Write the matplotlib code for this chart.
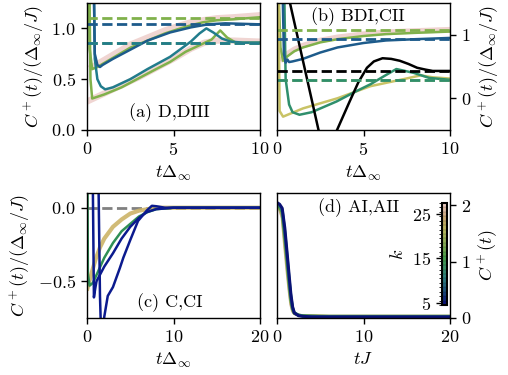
import numpy as np
import matplotlib
matplotlib.use('Agg')
import matplotlib.pyplot as plt
from matplotlib.colors import ListedColormap, BoundaryNorm

plt.rcParams.update({
    'font.family': 'serif', 'font.serif': ['cmr10', 'DejaVu Serif'],
    'mathtext.fontset': 'cm', 'axes.formatter.use_mathtext': True,
    'font.size': 13, 'axes.linewidth': 1.0,
    'xtick.major.width': 1.0, 'ytick.major.width': 1.0,
    'xtick.major.size': 4.5, 'ytick.major.size': 4.5,
    'axes.unicode_minus': True,
})

# ---------------- data: panel (a) D,DIII ----------------
a_pink_lo_t = [0.0, 0.5, 1.0, 2.0, 3.0, 4.0, 5.0, 6.0, 6.8, 7.5, 8.5, 10.0]
a_pink_lo_c = [0.28, 0.32, 0.36, 0.44, 0.52, 0.61, 0.70, 0.80, 0.86, 0.88, 0.88, 0.87]
a_pink_up_t = [0.3, 0.6, 1.0, 1.7, 2.5, 3.5, 4.5, 5.4, 6.0, 6.7, 7.5, 8.5, 10.0]
a_pink_up_c = [0.62, 0.65, 0.69, 0.76, 0.84, 0.91, 0.98, 1.03, 1.06, 1.08, 1.10, 1.11, 1.13]
a_green_up_t = [0.08, 0.15, 0.3, 0.6, 1.0, 1.7, 2.5, 3.5, 4.5, 5.4, 6.0, 6.7, 7.5, 8.5, 10.0]
a_green_up_c = [2.0, 0.8, 0.6, 0.62, 0.66, 0.73, 0.81, 0.88, 0.95, 1.0, 1.03, 1.06, 1.08, 1.09, 1.11]
a_green_lo_t = [0.1, 0.2, 0.3, 1.0, 2.0, 3.0, 4.0, 4.8, 5.7, 6.7, 7.2, 7.7, 8.1, 8.6, 10.0]
a_green_lo_c = [2.0, 0.5, 0.31, 0.35, 0.42, 0.51, 0.60, 0.67, 0.77, 0.85, 0.89, 0.98, 0.91, 0.86, 0.86]
a_teal_t = [0.35, 0.45, 0.6, 0.8, 1.05, 1.5, 2.5, 3.5, 4.8, 6.0, 6.5, 6.9, 7.3, 7.8, 8.3, 9.0, 10.0]
a_teal_c = [2.0, 0.7, 0.5, 0.43, 0.40, 0.42, 0.50, 0.60, 0.72, 0.87, 0.95, 1.0, 0.96, 0.90, 0.87, 0.86, 0.86]
a_blue_t = [0.35, 0.45, 0.6, 0.75, 0.9, 1.5, 2.5, 3.5, 4.8, 6.0, 7.0, 8.0, 10.0]
a_blue_c = [2.0, 0.75, 0.64, 0.62, 0.64, 0.70, 0.79, 0.88, 0.96, 1.01, 1.04, 1.05, 1.04]
a_dash_green = [1.10, 0.86]
a_dash_blue = [1.04, 0.86]

# ---------------- data: panel (b) BDI,CII ----------------
b_pink_t = [0.3, 0.6, 1.0, 1.5, 2.5, 3.5, 5.0, 6.3, 8.0, 10.0]
b_pink_c = [0.62, 0.70, 0.77, 0.83, 0.91, 0.96, 1.01, 1.04, 1.06, 1.08]
b_green_t = [0.05, 0.2, 0.35, 0.6, 1.0, 1.5, 2.5, 3.5, 5.0, 6.3, 8.0, 10.0]
b_green_c = [2.0, 0.8, 0.59, 0.66, 0.74, 0.80, 0.88, 0.93, 0.98, 1.01, 1.03, 1.05]
b_blue_t = [0.3, 0.4, 0.5, 0.6, 0.7, 0.9, 1.5, 2.5, 3.5, 5.0, 6.3, 8.0, 10.0]
b_blue_c = [2.0, 0.7, 0.56, 0.61, 0.57, 0.58, 0.62, 0.72, 0.80, 0.87, 0.91, 0.93, 0.95]
b_teal_t = [0.4, 0.5, 0.7, 0.9, 1.3, 2.0, 3.45, 4.5, 5.4, 6.2, 6.9, 7.9, 8.8, 10.0]
b_teal_c = [2.0, 0.3, -0.1, -0.22, -0.26, -0.22, -0.05, 0.10, 0.22, 0.35, 0.46, 0.40, 0.32, 0.29]
b_khaki_t = [0.08, 0.15, 0.35, 1.5, 3.5, 5.4, 7.3, 8.3, 9.0, 10.0]
b_khaki_c = [2.0, -0.2, -0.29, -0.16, 0.0, 0.19, 0.30, 0.36, 0.33, 0.31]
b_black_t = [0.0, 0.75, 1.6, 2.4, 2.95, 3.47, 4.2, 4.7, 5.2, 5.6, 6.1, 6.6, 7.1, 7.6, 8.1, 8.6, 9.0, 10.0]
b_black_c = [2.4, 1.5, 0.47, -0.5, -0.85, -0.5, -0.05, 0.25, 0.48, 0.58, 0.63, 0.62, 0.59, 0.54, 0.48, 0.45, 0.43, 0.43]
b_dash_green = 1.08
b_dash_blue = 0.94
b_dash_black = 0.43
b_dash_teal = 0.29

# ---------------- data: panel (c) C,CI ----------------
c_tan_t = [0.05, 0.5, 1.0, 1.5, 2.0, 3.0, 4.0, 5.0, 6.0, 7.0, 8.0, 10.0, 15.0, 20.0]
c_tan_c = [-0.55, -0.45, -0.35, -0.27, -0.21, -0.13, -0.08, -0.04, -0.02, -0.01, 0.0, 0.0, 0.0, 0.0]
c_green_t = [0.05, 0.1, 0.3, 0.7, 1.0, 2.0, 3.0, 4.0, 5.0, 6.0, 7.0, 8.0, 10.0, 20.0]
c_green_c = [0.3, -0.45, -0.53, -0.51, -0.47, -0.34, -0.24, -0.16, -0.11, -0.06, -0.03, -0.01, 0.0, 0.0]
c_navy1_t = [0.65, 0.8, 0.95, 1.1, 2.0, 3.0, 4.0, 5.0, 6.0, 6.9, 8.0, 10.0, 20.0]
c_navy1_c = [0.3, -0.61, -0.55, -0.5, -0.4, -0.31, -0.21, -0.13, -0.07, -0.03, -0.01, 0.0, 0.0]
c_navy2_t = [1.3, 1.5, 1.65, 1.8, 2.0, 2.4, 3.0, 3.8, 4.2, 5.0, 5.9, 6.9, 7.5, 8.0, 9.0, 10.0, 20.0]
c_navy2_c = [0.3, -0.6, -0.9, -0.85, -0.74, -0.6, -0.54, -0.41, -0.34, -0.22, -0.09, -0.02, 0.013, 0.01, 0.0, 0.0, 0.0]
c_dash = 0.0

# ---------------- data: panel (d) AI,AII ----------------
d_k = [25, 20, 15, 10, 5]
d_t = [0.0, 0.3, 0.6, 0.9, 1.2, 1.4, 1.6, 1.8, 2.0, 2.5, 3.0, 4.0, 6.0, 10.0, 20.0]
d_c = {
    25: [1.97, 1.93, 1.78, 1.26, 0.78, 0.49, 0.24, 0.12, 0.08, 0.05, 0.04, 0.04, 0.03, 0.03, 0.03],
    20: [1.98, 1.95, 1.83, 1.36, 0.86, 0.55, 0.28, 0.14, 0.08, 0.05, 0.04, 0.04, 0.03, 0.03, 0.03],
    15: [2.00, 1.97, 1.88, 1.45, 0.95, 0.62, 0.33, 0.16, 0.09, 0.05, 0.04, 0.03, 0.03, 0.03, 0.03],
    10: [2.03, 2.00, 1.92, 1.53, 1.03, 0.69, 0.38, 0.18, 0.09, 0.05, 0.03, 0.03, 0.02, 0.02, 0.02],
    5:  [2.05, 2.02, 1.95, 1.60, 1.10, 0.76, 0.43, 0.20, 0.09, 0.04, 0.03, 0.02, 0.02, 0.02, 0.02],
}
k_min, k_max = 5, 27

# ---------------- colours ----------------
PINK = '#ebc7c3'
LGREEN = '#80b14b'
TEAL = '#217c8c'
BLUE = '#1d5b8b'
SEAG = '#2f8f6c'
KHAKI = '#c9c366'
NAVY = '#0b1a8e'
CGREEN = '#2f8f55'
TAN = '#ccb468'

nk = k_max - k_min + 1
cmap = ListedColormap(plt.get_cmap('gist_earth')(np.linspace(0.06, 0.92, nk)))
norm = BoundaryNorm(np.arange(k_min - 0.5, k_max + 1.0, 1.0), cmap.N)

fig = plt.figure(figsize=(5.08, 3.75), dpi=100)
W, H = 508.0, 375.0
def box(x0, x1, ytop, ybot):
    return [x0 / W, 1 - ybot / H, (x1 - x0) / W, (ybot - ytop) / H]

axa = fig.add_axes(box(87, 260, 3, 130))
axb = fig.add_axes(box(277, 450, 3, 130))
axc = fig.add_axes(box(87, 260, 193, 318))
axd = fig.add_axes(box(277, 450, 193, 318))

LW = 1.8
DLW = 2.0
# (a)
axa.plot(a_pink_lo_t, a_pink_lo_c, color=PINK, lw=4.5, alpha=0.75)
axa.plot(a_pink_up_t, a_pink_up_c, color=PINK, lw=4.5, alpha=0.75)
axa.plot(a_green_up_t, a_green_up_c, color=LGREEN, lw=LW)
axa.plot(a_green_lo_t, a_green_lo_c, color=LGREEN, lw=LW)
axa.plot(a_teal_t, a_teal_c, color=TEAL, lw=LW)
axa.plot(a_blue_t, a_blue_c, color=BLUE, lw=LW)
for v in a_dash_green:
    axa.axhline(v, color=LGREEN, lw=DLW, ls='--')
for v in a_dash_blue:
    axa.axhline(v, color=TEAL if v < 1 else BLUE, lw=DLW, ls='--')
axa.set_xlim(0, 10)
axa.set_ylim(0, 1.25)
axa.set_xticks([0, 5, 10])
axa.set_yticks([0, 0.5, 1.0])
axa.set_xlabel(r'$t\Delta_\infty$')
axa.set_ylabel(r'$C^+(t)/(\Delta_\infty/J)$')
axa.text(0.475, 0.14, '(a) D,DIII', transform=axa.transAxes, ha='center', va='center')

# (b)
axb.plot(b_pink_t, b_pink_c, color=PINK, lw=4.0, alpha=0.8)
axb.plot(b_green_t, b_green_c, color=LGREEN, lw=LW)
axb.plot(b_khaki_t, b_khaki_c, color=KHAKI, lw=LW)
axb.plot(b_teal_t, b_teal_c, color=SEAG, lw=LW)
axb.plot(b_blue_t, b_blue_c, color=BLUE, lw=LW)
axb.plot(b_black_t, b_black_c, color='black', lw=LW)
axb.axhline(b_dash_green, color=LGREEN, lw=DLW, ls='--')
axb.axhline(b_dash_blue, color=BLUE, lw=DLW, ls='--')
axb.axhline(b_dash_teal - 0.01, color=KHAKI, lw=DLW, ls='--')
axb.axhline(b_dash_teal, color=SEAG, lw=DLW, ls='--')
axb.axhline(b_dash_black, color='black', lw=DLW, ls='--')
axb.set_xlim(0, 10)
axb.set_ylim(-0.5, 1.5)
axb.set_xticks([0, 5, 10])
axb.set_yticks([0, 1])
axb.yaxis.tick_right()
axb.yaxis.set_label_position('right')
axb.set_xlabel(r'$t\Delta_\infty$')
axb.set_ylabel(r'$C^+(t)/(\Delta_\infty/J)$')
axb.text(0.47, 0.89, '(b) BDI,CII', transform=axb.transAxes, ha='center', va='center')

# (c)
axc.axhline(c_dash, color='gray', lw=DLW, ls='--')
axc.plot(c_tan_t, c_tan_c, color=TAN, lw=3.0, alpha=0.9)
axc.plot(c_green_t, c_green_c, color=CGREEN, lw=LW)
axc.plot(c_navy1_t, c_navy1_c, color=NAVY, lw=LW)
axc.plot(c_navy2_t, c_navy2_c, color=NAVY, lw=LW)
axc.set_xlim(0, 20)
axc.set_ylim(-0.75, 0.1)
axc.set_xticks([0, 10, 20])
axc.set_yticks([-0.5, 0.0])
axc.set_xlabel(r'$t\Delta_\infty$')
axc.set_ylabel(r'$C^+(t)/(\Delta_\infty/J)$')
axc.text(0.48, 0.12, '(c) C,CI', transform=axc.transAxes, ha='center', va='center')

# (d)
for k in d_k:
    axd.plot(d_t, d_c[k], color=cmap(norm(k)), lw=2.2)
axd.set_xlim(0, 20)
axd.set_ylim(0, 2.22)
axd.set_xticks([0, 10, 20])
axd.set_yticks([0, 1, 2])
axd.yaxis.tick_right()
axd.yaxis.set_label_position('right')
axd.set_xlabel(r'$tJ$')
axd.set_ylabel(r'$C^+(t)$')
axd.text(0.47, 0.88, '(d) AI,AII', transform=axd.transAxes, ha='center', va='center')

cax = axd.inset_axes([0.954, 0.104, 0.029, 0.816])
sm = plt.cm.ScalarMappable(cmap=cmap, norm=norm)
cb = fig.colorbar(sm, cax=cax, ticks=[5, 15, 25], drawedges=True)
cb.dividers.set_linewidth(0.3)
cb.dividers.set_alpha(0.4)
cb.outline.set_linewidth(1.5)
cax.yaxis.set_ticks_position('left')
cax.yaxis.set_label_position('left')
cb.set_label(r'$k$')

fig.savefig('out.png', dpi=100)
